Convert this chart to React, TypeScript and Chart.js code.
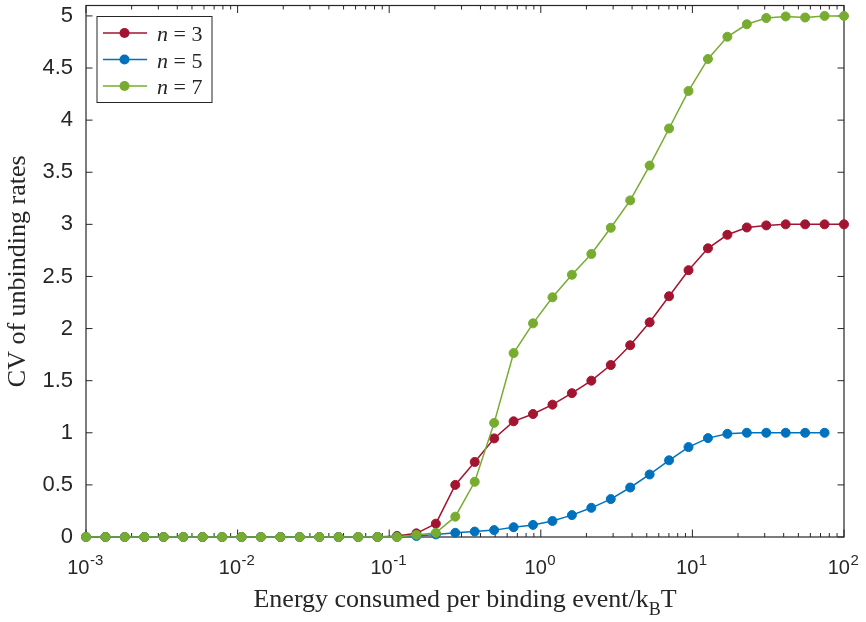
import React, { useEffect, useRef } from "react";
import { Chart, registerables } from "chart.js";

Chart.register(...registerables);

// Energy consumed per binding event / kBT (40 log-spaced samples, 1e-3 .. 1e2)
const energy = [
  0.001, 0.0013434, 0.0018047, 0.0024245, 0.0032571, 0.0043755, 0.005878, 0.0078965,
  0.010608, 0.014251, 0.019145, 0.025719, 0.034551, 0.046416, 0.062355, 0.083768,
  0.11253, 0.15118, 0.20309, 0.27283, 0.36652, 0.49239, 0.66147, 0.88862,
  1.1938, 1.6037, 2.1544, 2.8943, 3.8882, 5.2233, 7.017, 9.4267,
  12.664, 17.013, 22.855, 30.703, 41.246, 55.41, 74.438, 100,
];

const cvN3 = [
  0, 0, 0, 0, 0, 0, 0, 0,
  0, 0, 0, 0, 0, 0, 0, 0,
  0.01, 0.035, 0.128, 0.5, 0.72, 0.946, 1.11, 1.18,
  1.27, 1.38, 1.5, 1.65, 1.84, 2.06, 2.31, 2.56,
  2.77, 2.9, 2.97, 2.99, 3.0, 3.0, 3.0, 3.0,
];

const cvN5 = [
  0, 0, 0, 0, 0, 0, 0, 0,
  0, 0, 0, 0, 0, 0, 0, 0,
  0, 0.01, 0.025, 0.04, 0.052, 0.066, 0.094, 0.116,
  0.154, 0.21, 0.28, 0.364, 0.475, 0.6, 0.736, 0.863,
  0.949, 0.99, 1.0, 1.0, 1.0, 1.0, 1.0, null,
];

const cvN7 = [
  0, 0, 0, 0, 0, 0, 0, 0,
  0, 0, 0, 0, 0, 0, 0, 0,
  0, 0.02, 0.04, 0.195, 0.53, 1.095, 1.765, 2.05,
  2.3, 2.516, 2.716, 2.967, 3.23, 3.564, 3.92, 4.28,
  4.587, 4.8, 4.92, 4.98, 4.995, 4.985, 5.0, 5.0,
];

const seriesN = ["3", "5", "7"];
const seriesColors = ["#A2142F", "#0072BD", "#77AC30"];
const xTickExponents = [-3, -2, -1, 0, 1, 2];
const yMin = 0;
const yMax = 5.1;
const yStep = 0.5;

const AXIS = "#262626";
const TEXT = "#262626";
const SANS = '"Liberation Sans", Arial, sans-serif';
const SERIF = '"Liberation Serif", "Times New Roman", serif';

const decorPlugin = {
  id: "decor",
  beforeDatasetsDraw(chart: any) {
    const { ctx, chartArea, scales } = chart;
    const { left, right, top, bottom } = chartArea;
    const x = scales.x;
    const y = scales.y;
    ctx.save();
    ctx.strokeStyle = AXIS;
    ctx.lineWidth = 1.2;
    ctx.strokeRect(left, top, right - left, bottom - top);
    ctx.lineWidth = 1;
    ctx.beginPath();
    for (let d = xTickExponents[0]; d <= xTickExponents[xTickExponents.length - 1]; d++) {
      for (let m = 1; m <= 9; m++) {
        if (d === xTickExponents[xTickExponents.length - 1] && m > 1) break;
        const px = x.getPixelForValue(m * Math.pow(10, d));
        const len = m === 1 ? 7.5 : 4;
        ctx.moveTo(px, bottom);
        ctx.lineTo(px, bottom - len);
        ctx.moveTo(px, top);
        ctx.lineTo(px, top + len);
      }
    }
    y.ticks.forEach((t: any) => {
      const py = y.getPixelForValue(t.value);
      ctx.moveTo(left, py);
      ctx.lineTo(left + 6.5, py);
      ctx.moveTo(right, py);
      ctx.lineTo(right - 6.5, py);
    });
    ctx.stroke();

    // x tick labels with superscript exponents
    ctx.fillStyle = TEXT;
    ctx.textBaseline = "alphabetic";
    ctx.textAlign = "left";
    xTickExponents.forEach((e) => {
      const px = x.getPixelForValue(Math.pow(10, e));
      ctx.font = `20px ${SANS}`;
      const w1 = ctx.measureText("10").width;
      ctx.font = `15px ${SANS}`;
      const es = String(e);
      const w2 = ctx.measureText(es).width;
      const sx = px - (w1 + w2) / 2 - 1;
      ctx.font = `20px ${SANS}`;
      ctx.fillText("10", sx, bottom + 37);
      ctx.font = `15px ${SANS}`;
      ctx.fillText(es, sx + w1 + 0.5, bottom + 28);
    });

    // x axis title with subscript
    const main = "Energy consumed per binding event/k";
    const sub = "B";
    const tail = "T";
    ctx.font = `26px ${SERIF}`;
    const wm = ctx.measureText(main).width;
    const wt = ctx.measureText(tail).width;
    ctx.font = `18px ${SERIF}`;
    const ws = ctx.measureText(sub).width;
    const total = wm + ws + wt;
    let tx = (left + right) / 2 - total / 2;
    const by = bottom + 70;
    ctx.font = `26px ${SERIF}`;
    ctx.fillText(main, tx, by);
    tx += wm;
    ctx.font = `18px ${SERIF}`;
    ctx.fillText(sub, tx, by + 8);
    tx += ws;
    ctx.font = `26px ${SERIF}`;
    ctx.fillText(tail, tx, by);
    ctx.restore();
  },
  afterDatasetsDraw(chart: any) {
    const { ctx, chartArea } = chart;
    const { left, top } = chartArea;
    const bx = left + 11;
    const byy = top + 11;
    const bw = 115;
    const bh = 86;
    ctx.save();
    ctx.fillStyle = "#ffffff";
    ctx.fillRect(bx, byy, bw, bh);
    ctx.strokeStyle = AXIS;
    ctx.lineWidth = 1;
    ctx.strokeRect(bx, byy, bw, bh);
    chart.data.datasets.forEach((ds: any) => {
      const i = seriesN.indexOf(ds.nLabel);
      const cy = byy + 16.5 + i * 26.5;
      ctx.strokeStyle = ds.borderColor;
      ctx.lineWidth = 1.5;
      ctx.beginPath();
      ctx.moveTo(bx + 6, cy);
      ctx.lineTo(bx + 50, cy);
      ctx.stroke();
      ctx.fillStyle = ds.borderColor;
      ctx.beginPath();
      ctx.arc(bx + 27.5, cy, 5, 0, Math.PI * 2);
      ctx.fill();
      ctx.fillStyle = TEXT;
      ctx.textBaseline = "alphabetic";
      ctx.textAlign = "left";
      ctx.font = `italic 22px ${SERIF}`;
      ctx.fillText("n", bx + 60, cy + 8);
      const wn = ctx.measureText("n").width;
      ctx.font = `22px ${SERIF}`;
      ctx.fillText(" = " + ds.nLabel, bx + 60 + wn, cy + 8);
    });
    ctx.restore();
  },
};

function makeDataset(values: (number | null)[], idx: number, order: number) {
  return {
    label: "n = " + seriesN[idx],
    nLabel: seriesN[idx],
    data: energy.map((e, k) => ({ x: e, y: values[k] })),
    borderColor: seriesColors[idx],
    backgroundColor: seriesColors[idx],
    pointBackgroundColor: seriesColors[idx],
    pointBorderColor: seriesColors[idx],
    borderWidth: 1.5,
    pointRadius: 4.5,
    pointBorderWidth: 1,
    tension: 0,
    spanGaps: false,
    clip: false as any,
    order,
  };
}

export default function App() {
  const canvasRef = useRef<HTMLCanvasElement | null>(null);

  useEffect(() => {
    document.body.style.margin = "0";
    document.body.style.overflow = "hidden";
    const canvas = canvasRef.current;
    if (!canvas) return;
    const chart = new Chart(canvas, {
      type: "line",
      data: {
        datasets: [
          makeDataset(cvN3, 0, 2),
          makeDataset(cvN5, 1, 1),
          makeDataset(cvN7, 2, 0),
        ] as any,
      },
      options: {
        responsive: false,
        animation: false,
        devicePixelRatio: 1,
        events: [],
        layout: { padding: { left: 0, right: 22, top: 2, bottom: 0 } },
        plugins: {
          legend: { display: false },
          tooltip: { enabled: false },
        },
        scales: {
          x: {
            type: "logarithmic",
            min: 0.001,
            max: 100,
            grid: { display: false },
            border: { display: false },
            ticks: { display: false },
            afterFit: (scale: any) => {
              scale.height = 85;
              scale.paddingLeft = 0;
              scale.paddingRight = 0;
              scale.paddingTop = 0;
              scale.paddingBottom = 0;
            },
          },
          y: {
            type: "linear",
            min: yMin,
            max: yMax,
            grid: { display: false, drawTicks: false },
            border: { display: false },
            ticks: {
              stepSize: yStep,
              includeBounds: false,
              padding: 13,
              color: TEXT,
              font: { family: SANS, size: 22 },
              callback: (v: any) => String(Number(v)),
            },
            afterBuildTicks: (scale: any) => {
              scale.ticks = scale.ticks.filter((t: any) => t.value <= 5.0001);
            },
            title: {
              display: true,
              text: "CV of unbinding rates",
              color: TEXT,
              font: { family: SERIF, size: 26 },
              padding: { top: 3, bottom: 0 },
            },
            afterFit: (scale: any) => {
              scale.width = 86;
              scale.paddingLeft = 0;
              scale.paddingRight = 0;
              scale.paddingTop = 0;
              scale.paddingBottom = 0;
            },
          },
        },
      } as any,
      plugins: [decorPlugin],
    });
    return () => chart.destroy();
  }, []);

  return (
    <canvas
      ref={canvasRef}
      width={866}
      height={622}
      style={{ display: "block", width: "866px", height: "622px" }}
    />
  );
}
